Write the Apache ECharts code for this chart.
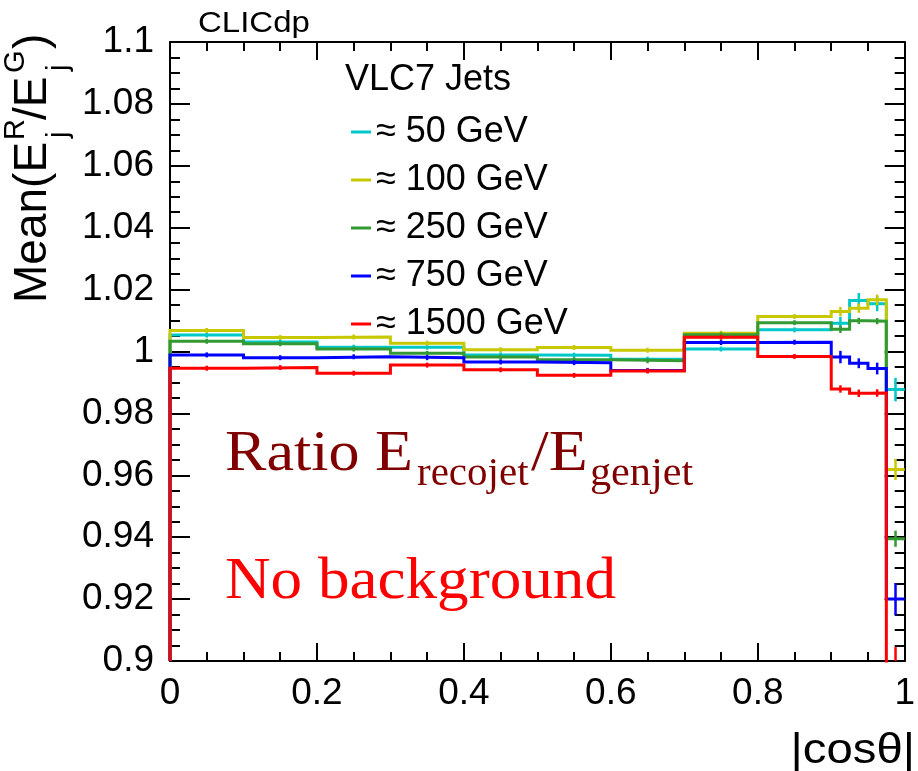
<!DOCTYPE html>
<html>
<head>
<meta charset="utf-8">
<script src="https://cdn.jsdelivr.net/npm/echarts@6/dist/echarts.min.js"></script>
<style>html,body{margin:0;padding:0;background:#fff;}#c{width:918px;height:771px;}</style>
</head>
<body>
<div id="c"></div>
<script>
// Bin edges in |cos(theta)|
const EDGES = [0, 0.1, 0.2, 0.3, 0.4, 0.5, 0.6, 0.7, 0.8, 0.9, 0.925, 0.95, 0.975, 1.0];
const NAMES = ['\u2248 50 GeV', '\u2248 100 GeV', '\u2248 250 GeV', '\u2248 750 GeV', '\u2248 1500 GeV'];
const COLORS = ['#00c8c8', '#c8c800', '#339933', '#0000ff', '#ff0000'];

// Mean(E_reco/E_gen) per bin
const MEAN_50   = [1.0053, 1.0031, 1.0014, 1.0014, 0.9989, 0.9988, 0.9975, 1.0008, 1.0070, 1.0091, 1.0165, 1.0154, 0.9877];
const MEAN_100  = [1.0068, 1.0045, 1.0047, 1.0027, 1.0006, 1.0013, 1.0004, 1.0059, 1.0113, 1.0129, 1.0140, 1.0167, 0.9619];
const MEAN_250  = [1.0033, 1.0025, 1.0008, 0.9994, 0.9982, 0.9973, 0.9970, 1.0054, 1.0093, 1.0072, 1.0099, 1.0098, 0.9395];
const MEAN_750  = [0.9989, 0.9980, 0.9983, 0.9980, 0.9966, 0.9964, 0.9939, 1.0029, 1.0030, 0.9982, 0.9962, 0.9945, 0.9200];
const MEAN_1500 = [0.9946, 0.9948, 0.9930, 0.9956, 0.9941, 0.9923, 0.9937, 1.0046, 0.9984, 0.9879, 0.9865, 0.9866, 0.8960];

// Statistical errors per bin
const ERR_50   = [0.0008, 0.0008, 0.0008, 0.0008, 0.0008, 0.0008, 0.0008, 0.0008, 0.0008, 0.0021, 0.0024, 0.0024, 0.0038];
const ERR_100  = [0.0008, 0.0008, 0.0008, 0.0008, 0.0008, 0.0008, 0.0008, 0.0008, 0.0008, 0.0015, 0.0015, 0.0017, 0.0034];
const ERR_250  = [0.0008, 0.0008, 0.0008, 0.0008, 0.0008, 0.0008, 0.0008, 0.0008, 0.0008, 0.0012, 0.0010, 0.0010, 0.0026];
const ERR_750  = [0.0008, 0.0008, 0.0008, 0.0008, 0.0008, 0.0008, 0.0008, 0.0008, 0.0008, 0.0020, 0.0016, 0.0019, 0.0052];
const ERR_1500 = [0.0008, 0.0008, 0.0008, 0.0008, 0.0008, 0.0008, 0.0008, 0.0008, 0.0008, 0.0012, 0.0012, 0.0012, 0.0085];

const X_MIN = 0, X_MAX = 1, X_STEP = 0.2;
const Y_MIN = 0.9, Y_MAX = 1.1, Y_STEP = 0.02;

const MEANS = [MEAN_50, MEAN_100, MEAN_250, MEAN_750, MEAN_1500];
const ERRS = [ERR_50, ERR_100, ERR_250, ERR_750, ERR_1500];

const FONT = '"Liberation Sans", Arial, Helvetica, sans-serif';
const SERIF = '"Liberation Serif", "Times New Roman", Times, serif';

function histPath(vals) {
  const pts = [[EDGES[0], Y_MIN]];
  for (let i = 0; i < vals.length; i++) {
    pts.push([EDGES[i], vals[i]]);
    pts.push([EDGES[i + 1], vals[i]]);
  }
  return pts;
}
function errData(vals, errs) {
  return vals.map((v, i) => [(EDGES[i] + EDGES[i + 1]) / 2, v, errs[i]]);
}

const series = [];
MEANS.forEach((vals, k) => {
  series.push({
    name: NAMES[k], type: 'line', data: histPath(vals), symbol: 'none',
    lineStyle: { color: COLORS[k], width: 3, cap: 'butt', join: 'miter' },
    itemStyle: { color: COLORS[k] },
    z: 2 + k * 2, clip: true, silent: true
  });
  series.push({
    name: NAMES[k], type: 'custom', data: errData(vals, ERRS[k]),
    itemStyle: { color: COLORS[k] }, z: 3 + k * 2, silent: true,
    renderItem: function (params, api) {
      const c = api.value(0), v = api.value(1), e = api.value(2);
      let lo = v - e, hi = v + e;
      if (hi < Y_MIN || lo > Y_MAX) return null;
      lo = Math.max(lo, Y_MIN); hi = Math.min(hi, Y_MAX);
      const p1 = api.coord([c, lo]), p2 = api.coord([c, hi]);
      return { type: 'line', shape: { x1: p1[0], y1: p1[1], x2: p2[0], y2: p2[1] },
               style: { stroke: COLORS[k], lineWidth: 2.5 } };
    }
  });
});

const axisCommon = {
  axisLine: { show: true, onZero: false, lineStyle: { color: '#000', width: 2 } },
  splitLine: { show: false }, minorSplitLine: { show: false }
};

function txt(text, x, y, size, color, family, extra) {
  return Object.assign({
    type: 'text', x: x, y: y, silent: true,
    style: { text: text, x: 0, y: 0, fill: color, fontSize: size, fontFamily: family,
             align: 'left', verticalAlign: 'middle', textAlign: 'left', textVerticalAlign: 'middle' }
  }, extra || {});
}

const option = {
  animation: false,
  backgroundColor: '#fff',
  grid: { left: 170, right: 9, top: 42, bottom: 110, containLabel: false },
  xAxis: [
    Object.assign({}, axisCommon, {
      type: 'value', min: X_MIN, max: X_MAX, interval: X_STEP, position: 'bottom',
      axisTick: { show: true, inside: true, length: 18, lineStyle: { color: '#000', width: 2 } },
      minorTick: { show: true, splitNumber: 4, length: 9, lineStyle: { color: '#000', width: 2 } },
      axisLabel: { color: '#000', fontSize: 37, fontFamily: FONT, margin: 14,
                   formatter: v => String(+v.toFixed(2)) }
    }),
    Object.assign({}, axisCommon, {
      type: 'value', min: X_MIN, max: X_MAX, interval: X_STEP, position: 'top',
      axisTick: { show: true, inside: true, length: 18, lineStyle: { color: '#000', width: 2 } },
      minorTick: { show: true, splitNumber: 4, length: 9, lineStyle: { color: '#000', width: 2 } },
      axisLabel: { show: false }
    })
  ],
  yAxis: [
    Object.assign({}, axisCommon, {
      type: 'value', min: Y_MIN, max: Y_MAX, interval: Y_STEP, position: 'left',
      axisTick: { show: true, inside: true, length: 20, lineStyle: { color: '#000', width: 2 } },
      minorTick: { show: true, splitNumber: 4, length: 10, lineStyle: { color: '#000', width: 2 } },
      axisLabel: { color: '#000', fontSize: 37, fontFamily: FONT, margin: 16,
                   formatter: v => String(+v.toFixed(2)) }
    }),
    Object.assign({}, axisCommon, {
      type: 'value', min: Y_MIN, max: Y_MAX, interval: Y_STEP, position: 'right',
      axisTick: { show: true, inside: true, length: 20, lineStyle: { color: '#000', width: 2 } },
      minorTick: { show: true, splitNumber: 4, length: 10, lineStyle: { color: '#000', width: 2 } },
      axisLabel: { show: false }
    })
  ],
  legend: {
    data: NAMES, orient: 'vertical', left: 346, top: 109,
    icon: 'rect', itemWidth: 20, itemHeight: 3, itemGap: 12,
    selectedMode: false,
    textStyle: { color: '#000', fontSize: 36, fontFamily: FONT, lineHeight: 34, padding: [0, 0, 0, 0] }
  },
  graphic: [
    txt('CLICdp', 198, 24, 30, '#000', FONT, { scaleX: 1.1 }),
    txt('VLC7 Jets', 345, 80.5, 36, '#000', FONT),
    {
      type: 'group', x: 48, y: 303, rotation: Math.PI / 2, silent: true,
      children: [
        txt('Mean(E', 0, -14.3, 46, '#000', FONT),
        txt('R', 163, -32, 29, '#000', FONT),
        txt('j', 165, 11, 29, '#000', FONT),
        txt('/E', 183, -14.3, 46, '#000', FONT),
        txt('G', 230, -32, 29, '#000', FONT),
        txt('j', 232, 11, 29, '#000', FONT),
        txt(')', 254, -14.3, 46, '#000', FONT)
      ]
    },
    {
      type: 'text', x: 915, y: 751, silent: true, scaleX: 1.1,
      style: { text: '|cos\u03b8|', x: 0, y: 0, fill: '#000', fontSize: 43, fontFamily: FONT,
               align: 'right', verticalAlign: 'middle', textAlign: 'right', textVerticalAlign: 'middle' }
    },
    txt('Ratio E', 225, 455, 58, '#800000', SERIF, { scaleX: 1.07 }),
    txt('recojet', 417, 474, 41, '#800000', SERIF),
    txt('/E', 531, 455, 58, '#800000', SERIF, { scaleX: 1.1 }),
    txt('genjet', 590, 474, 41, '#800000', SERIF, { scaleX: 1.03 }),
    txt('No background', 225, 582, 59, '#ff0000', SERIF, { scaleX: 1.07 })
  ],
  series: series
};

const chart = echarts.init(document.getElementById('c'), null, { renderer: 'canvas' });
chart.setOption(option);
</script>
</body>
</html>
